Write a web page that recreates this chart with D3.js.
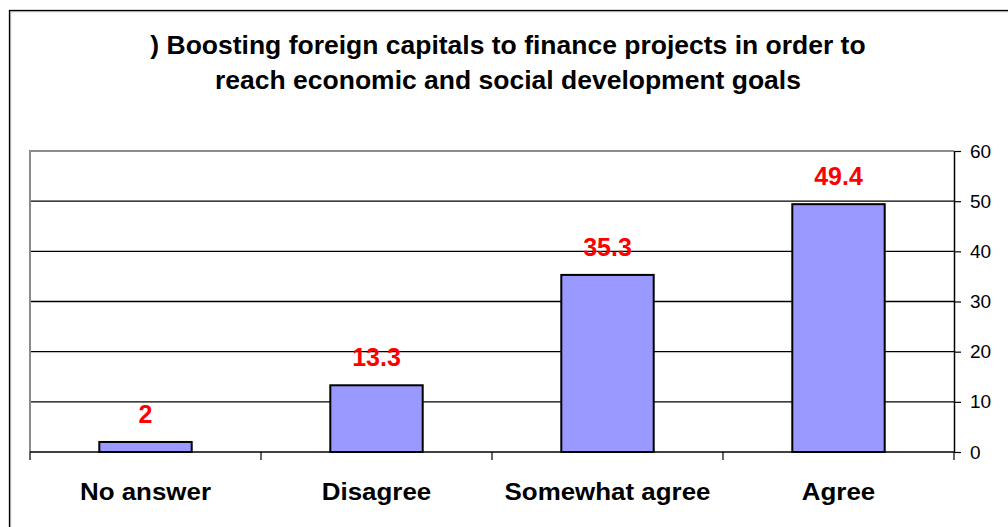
<!DOCTYPE html>
<html>
<head>
<meta charset="utf-8">
<script src="https://cdn.jsdelivr.net/npm/d3@7"></script>
<style>
  body { margin: 0; background: #fff; }
  svg { display: block; font-family: Arial, "Liberation Sans", sans-serif; }
</style>
</head>
<body>
<div id="chart"></div>
<script>
// data
var categories = ["No answer", "Disagree", "Somewhat agree", "Agree"];
var values = [2, 13.3, 35.3, 49.4];
var yTicks = [0, 10, 20, 30, 40, 50, 60];
var titleLines = [") Boosting foreign capitals to finance projects in order to",
                  "reach economic and social development goals"];

var W = 1008, H = 527;
var plot = {left: 30, right: 954, top: 151, bottom: 452};

var svg = d3.select("#chart")
  .append("svg")
  .attr("width", W)
  .attr("height", H);

// outer chart border (runs off the right/bottom of the picture)
svg.append("rect")
  .attr("x", 10.5).attr("y", 11.5)
  .attr("width", 1100).attr("height", 600)
  .attr("fill", "none")
  .attr("stroke", "#c8c8c8")
  .attr("stroke-width", 1.5);
svg.append("rect")
  .attr("x", 9.5).attr("y", 10.5)
  .attr("width", 1100).attr("height", 600)
  .attr("fill", "none")
  .attr("stroke", "#000")
  .attr("stroke-width", 1.3);

// title
svg.append("g")
  .selectAll("text")
  .data(titleLines)
  .join("text")
  .attr("x", 508)
  .attr("y", function(d, i) { return 54 + i * 35; })
  .attr("text-anchor", "middle")
  .attr("font-size", "25px")
  .attr("font-weight", "bold")
  .attr("transform", "translate(508,0) scale(1.06,1) translate(-508,0)")
  .text(function(d) { return d; });

// scales
var x = d3.scaleBand()
  .domain(categories)
  .range([plot.left, plot.right])
  .padding(0);

var y = d3.scaleLinear()
  .domain([0, 60])
  .range([plot.bottom, plot.top]);

var barW = x.bandwidth() / 2.5;

// gridlines
svg.append("g")
  .selectAll("line")
  .data(yTicks.filter(function(d) { return d > 0 && d < 60; }))
  .join("line")
  .attr("x1", plot.left).attr("x2", plot.right)
  .attr("y1", function(d) { return y(d); })
  .attr("y2", function(d) { return y(d); })
  .attr("stroke", "#000")
  .attr("stroke-width", 1.3);

// plot area border (left + top in gray)
svg.append("path")
  .attr("d", "M" + plot.left + "," + plot.bottom + "V" + plot.top + "H" + plot.right)
  .attr("fill", "none")
  .attr("stroke", "#8c8c8c")
  .attr("stroke-width", 2);

// bars
svg.append("g")
  .selectAll("rect")
  .data(values)
  .join("rect")
  .attr("x", function(d, i) { return x(categories[i]) + (x.bandwidth() - barW) / 2; })
  .attr("y", function(d) { return y(d); })
  .attr("width", barW)
  .attr("height", function(d) { return y(0) - y(d); })
  .attr("fill", "#9999ff")
  .attr("stroke", "#000")
  .attr("stroke-width", 2);

// value labels
svg.append("g")
  .selectAll("text")
  .data(values)
  .join("text")
  .attr("x", function(d, i) { return x(categories[i]) + x.bandwidth() / 2; })
  .attr("y", function(d) { return y(d) - 19; })
  .attr("text-anchor", "middle")
  .attr("font-size", "25px")
  .attr("font-weight", "bold")
  .attr("fill", "#ff0000")
  .text(function(d) { return d; });

// right axis
var yAxis = svg.append("g")
  .attr("transform", "translate(" + plot.right + ",0)")
  .call(d3.axisRight(y)
    .tickValues(yTicks)
    .tickSizeInner(7)
    .tickSizeOuter(0)
    .tickPadding(9));
yAxis.select(".domain").attr("stroke", "#000").attr("stroke-width", 1.5);
yAxis.selectAll(".tick line").attr("stroke-width", 1.2);
yAxis.selectAll(".tick text")
  .attr("font-size", "19px")
  .attr("font-family", "Arial, 'Liberation Sans', sans-serif")
  .attr("fill", "#000");

// bottom axis with ticks at category boundaries
var xAxis = svg.append("g")
  .attr("transform", "translate(0," + plot.bottom + ")");
xAxis.append("line")
  .attr("x1", plot.left).attr("x2", plot.right)
  .attr("stroke", "#000").attr("stroke-width", 1.5);
xAxis.selectAll(".bt")
  .data(categories.concat(["_end"]))
  .join("line")
  .attr("class", "bt")
  .attr("x1", function(d, i) { return i < categories.length ? x(d) : plot.right; })
  .attr("x2", function(d, i) { return i < categories.length ? x(d) : plot.right; })
  .attr("y1", 0).attr("y2", 8)
  .attr("stroke", "#000").attr("stroke-width", 1.2);

// category labels
svg.append("g")
  .selectAll("text")
  .data(categories)
  .join("text")
  .attr("x", function(d) { return x(d) + x.bandwidth() / 2; })
  .attr("y", 500)
  .attr("text-anchor", "middle")
  .attr("font-size", "24px")
  .attr("font-weight", "bold")
  .attr("transform", function(d) {
    var cx = x(d) + x.bandwidth() / 2;
    return "translate(" + cx + ",0) scale(1.08,1) translate(" + (-cx) + ",0)";
  })
  .text(function(d) { return d; });
</script>
</body>
</html>
